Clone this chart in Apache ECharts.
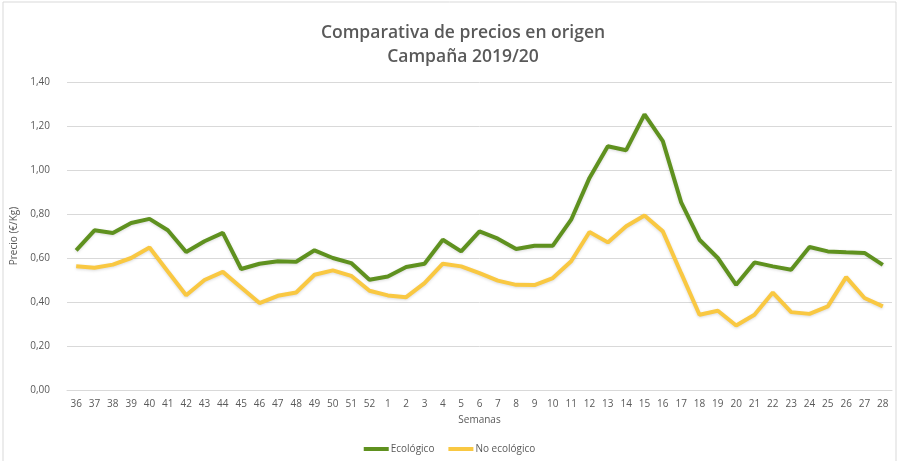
<!DOCTYPE html>
<html>
<head>
<meta charset="utf-8">
<script src="https://cdn.jsdelivr.net/npm/echarts@6/dist/echarts.min.js"></script>
<style>
  html, body { margin: 0; padding: 0; background: #fff; }
  #main { width: 899px; height: 461px; }
</style>
</head>
<body>
<div id="main"></div>
<script>
  // semanas de la campaña 2019/20
  var semanas = ['36','37','38','39','40','41','42','43','44','45','46','47','48','49','50','51','52',
    '1','2','3','4','5','6','7','8','9','10','11','12','13','14','15','16','17','18','19','20',
    '21','22','23','24','25','26','27','28'];

  var ecologico = [0.635,0.726,0.714,0.759,0.778,0.726,0.627,0.676,0.714,0.55,0.574,0.585,0.583,0.635,0.60,0.577,0.501,
    0.516,0.559,0.574,0.683,0.63,0.721,0.688,0.641,0.656,0.656,0.774,0.964,1.108,1.09,1.253,1.131,0.853,0.683,0.60,0.478,
    0.58,0.562,0.547,0.65,0.63,0.626,0.623,0.569];

  var noEcologico = [0.562,0.556,0.57,0.60,0.648,0.539,0.431,0.50,0.537,0.466,0.395,0.428,0.443,0.524,0.544,0.519,0.451,
    0.43,0.422,0.486,0.574,0.562,0.531,0.497,0.478,0.477,0.509,0.585,0.718,0.671,0.744,0.793,0.721,0.531,0.342,0.36,0.293,
    0.342,0.443,0.354,0.346,0.38,0.513,0.418,0.38];

  var chart = echarts.init(document.getElementById('main'));
  var gris = '#595959';

  var option = {
    animation: false,
    textStyle: { fontFamily: 'Open Sans' },
    graphic: [{
      type: 'rect',
      shape: { x: 3, y: 2, width: 893, height: 470 },
      style: { fill: 'none', stroke: '#d9d9d9', lineWidth: 1 },
      silent: true
    }],
    title: {
      text: 'Comparativa de precios en origen\nCampaña 2019/20',
      left: 458,
      textAlign: 'center',
      top: 16,
      textStyle: { fontSize: 17.5, fontWeight: 600, color: gris, lineHeight: 24 }
    },
    legend: {
      bottom: 2,
      left: 'center',
      itemWidth: 25,
      itemHeight: 4,
      itemGap: 14,
      icon: 'rect',
      textStyle: { fontSize: 10, color: gris, padding: [0, 0, 0, -3] },
      data: ['Ecológico', 'No ecológico']
    },
    grid: { left: 67, right: 7, top: 82, bottom: 71 },
    xAxis: {
      type: 'category',
      data: semanas,
      name: 'Semanas',
      nameLocation: 'middle',
      nameGap: 25,
      nameTextStyle: { fontSize: 10, color: gris },
      axisLine: { lineStyle: { color: '#d9d9d9' } },
      axisTick: { show: false },
      axisLabel: { interval: 0, fontSize: 10, color: gris, margin: 9 }
    },
    yAxis: {
      type: 'value',
      min: 0,
      max: 1.4,
      interval: 0.2,
      name: 'Precio (€/Kg)',
      nameLocation: 'middle',
      nameGap: 40,
      nameTextStyle: { fontSize: 10, color: gris },
      axisLine: { show: false },
      axisTick: { show: false },
      splitLine: { lineStyle: { color: '#d9d9d9' } },
      axisLabel: {
        fontSize: 10, color: gris, margin: 17,
        formatter: function (v) { return v.toFixed(2).replace('.', ','); }
      }
    },
    series: [
      {
        name: 'Ecológico',
        type: 'line',
        data: ecologico,
        showSymbol: false,
        symbol: 'none',
        itemStyle: { color: '#5f911f' },
        lineStyle: { width: 4, color: '#5f911f', shadowColor: 'rgba(0,0,0,0.15)', shadowBlur: 3, shadowOffsetY: 1 }
      },
      {
        name: 'No ecológico',
        type: 'line',
        data: noEcologico,
        showSymbol: false,
        symbol: 'none',
        itemStyle: { color: '#f9c842' },
        lineStyle: { width: 4, color: '#f9c842', shadowColor: 'rgba(0,0,0,0.15)', shadowBlur: 3, shadowOffsetY: 1 }
      }
    ]
  };

  chart.setOption(option);
</script>
</body>
</html>
